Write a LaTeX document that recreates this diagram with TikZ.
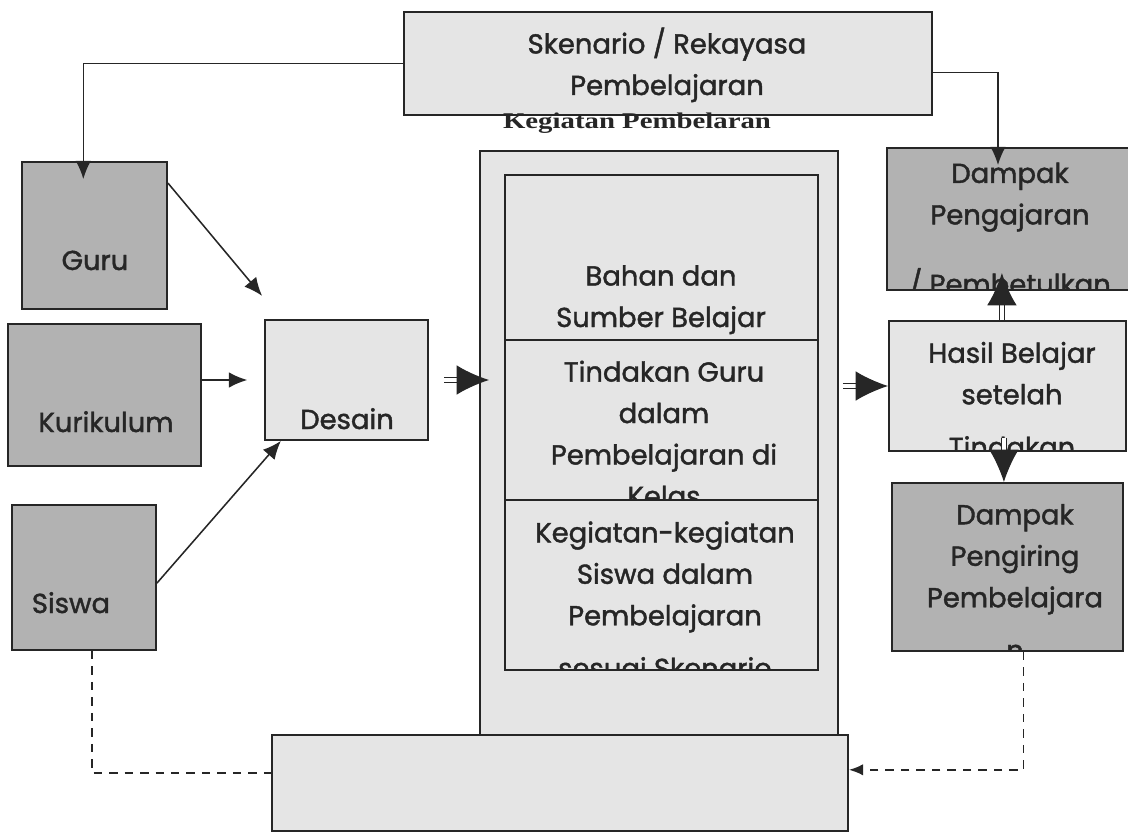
\documentclass[tikz,border=0pt]{standalone}
\usepackage{fontspec}
\setmainfont{Poppins}[FakeBold=1.5]
\newfontfamily\judulfont[FakeStretch=1.28]{Liberation Serif}
\usetikzlibrary{arrows.meta}

\begin{document}
\begin{tikzpicture}[x=0.025cm, y=-0.025cm,
    box/.style={draw=black!85, line width=1.3pt, inner sep=0pt},
    terang/.style={box, fill=black!10},
    gelap/.style={box, fill=black!30},
    teks/.style={anchor=base, align=center, text=black!85, font=\fontsize{19.5}{29.5}\selectfont},
    panah/.style={draw=black!85, line width=1.1pt, -{Latex[length=13pt, width=11pt]}},
    ganda/.style={draw=black!85, double, double distance=2.5pt, line width=0.9pt, -{Latex[length=23pt, width=21pt]}},
    putus/.style={draw=black!85, line width=1.1pt, dash pattern=on 6pt off 5pt}]
    \useasboundingbox (0,0) rectangle (1128,833);

    % kotak-kotak
    \node[terang, minimum width=13.2cm, minimum height=2.575cm] (skenario) at (668,63.5) {};
    \node[gelap, minimum width=3.625cm, minimum height=3.675cm] (guru) at (94.5,235.5) {};
    \node[gelap, minimum width=4.825cm, minimum height=3.55cm] (kurikulum) at (104.5,395) {};
    \node[gelap, minimum width=3.6cm, minimum height=3.625cm] (siswa) at (84,577.5) {};
    \node[terang, minimum width=4.075cm, minimum height=3cm] (desain) at (346.5,380) {};
    \node[terang, minimum width=8.95cm, minimum height=14.6cm] (kegiatan) at (659,443) {};
    \node[terang, minimum width=14.4cm, minimum height=2.4cm] (balikan) at (560,783) {};
    \node[terang, minimum width=7.825cm, minimum height=4.125cm] (bahan) at (661.5,257.5) {};
    \node[terang, minimum width=7.825cm, minimum height=4cm] (tindakan) at (661.5,420) {};
    \node[terang, minimum width=7.825cm, minimum height=4.25cm] (siswakeg) at (661.5,585) {};
    \node[gelap, minimum width=6.2cm, minimum height=3.55cm] (pengajaran) at (1011,219) {};
    \node[terang, minimum width=5.925cm, minimum height=3.25cm] (hasil) at (1007.5,386) {};
    \node[gelap, minimum width=5.775cm, minimum height=4.2cm] (pengiring) at (1007.5,567) {};

    % tulisan (base = baris terakhir)
    \node[teks] (skenarioT) at (667,95) {Skenario / Rekayasa\\Pembelajaran};
    \node[anchor=base, text=black!85] (judul) at (637,129) {\judulfont\bfseries\fontsize{16}{19}\selectfont Kegiatan Pembelaran};
    \node[teks] (guruT) at (95,270) {Guru};
    \node[teks] (kurikulumT) at (106,432) {Kurikulum};
    \node[teks] (siswaT) at (71,613) {Siswa};
    \node[teks] (desainT) at (347,429) {Desain};
    \node[teks] (bahanT) at (661,327) {Bahan dan\\Sumber Belajar};
    \begin{scope}
        \clip (tindakan.south west) rectangle (tindakan.north east);
        \node[teks] (tindakanT) at (664,506) {Tindakan Guru\\dalam\\Pembelajaran di\\Kelas};
    \end{scope}
    \begin{scope}
        \clip (siswakeg.south west) rectangle (siswakeg.north east);
        \node[teks] (siswakegT) at (665,678) {Kegiatan-kegiatan\\Siswa dalam\\Pembelajaran\\[8pt]sesuai Skenario};
    \end{scope}
    \begin{scope}
        \clip (pengajaran.south west) rectangle (pengajaran.north east);
        \node[teks] (pengajaranT) at (1010,294) {Dampak\\Pengajaran\\[20pt]/ Pembetulkan};
    \end{scope}
    \begin{scope}
        \clip (hasil.south west) rectangle (hasil.north east);
        \node[teks] (hasilT) at (1012,457) {Hasil Belajar\\setelah\\[8pt]Tindakan};
    \end{scope}
    \begin{scope}
        \clip (pengiring.south west) rectangle (pengiring.north east);
        \node[teks] (pengiringT) at (1015,660) {Dampak\\Pengiring\\Pembelajara\\[8pt]n};
    \end{scope}

    % panah
    \draw[panah, shorten >=-0.45cm] (skenario.west) -| ([xshift=-0.28cm]guru.north);
    \draw[panah, shorten >=-0.45cm] ([yshift=-0.22cm]skenario.east) -| ([xshift=-0.325cm]pengajaran.north);
    \draw[panah] ([yshift=-0.55cm]guru.north east) -- ([xshift=-0.05cm, yshift=0.58cm]desain.north west);
    \draw[panah, shorten >=0.42cm] (kurikulum.east |- desain.west) -- (desain.west);
    \draw[panah] ([yshift=-0.14cm]siswa.east) -- ([xshift=0.42cm]desain.south west);
    \draw[ganda, shorten >=-0.25cm] ([xshift=0.38cm]desain.east) -- (desain.east -| kegiatan.west);
    \draw[ganda] ([xshift=0.1cm]hasil.west -| kegiatan.east) -- (hasil.west);
    \draw[ganda, shorten >=-0.45cm] ([xshift=-0.14cm]hasil.north) -- ([xshift=-0.14cm]hasil.north |- pengajaran.south);
    \draw[ganda] ([xshift=-0.09cm, yshift=0.35cm]hasil.south) -- ([xshift=-0.09cm]hasil.south |- pengiring.north);

    % garis putus-putus
    \draw[putus, -{Latex[length=10pt, width=8pt]}] ([xshift=0.4cm]pengiring.south) |- ([yshift=0.33cm]balikan.east);
    \draw[putus] ([xshift=0.2cm]siswa.south) |- ([yshift=0.25cm]balikan.west);
\end{tikzpicture}
\end{document}
